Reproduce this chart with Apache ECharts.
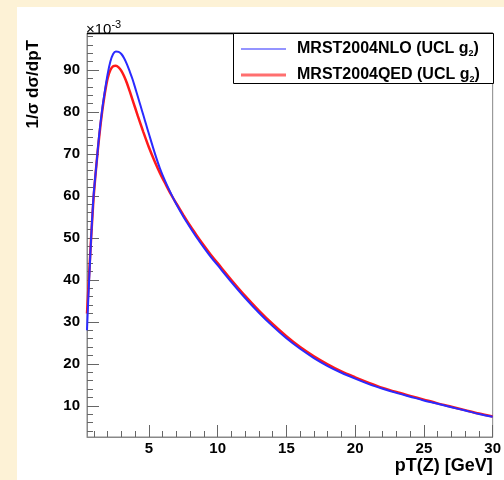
<!DOCTYPE html>
<html>
<head>
<meta charset="utf-8">
<script src="https://cdn.jsdelivr.net/npm/echarts@6/dist/echarts.min.js"></script>
<style>
html,body{margin:0;padding:0;background:#fdf2d6;}
#c{width:504px;height:480px;}
</style>
</head>
<body>
<div id="c"></div>
<script>
// pT(Z) in GeV, 1/sigma dsigma/dpT in units of 1e-3
const nloX = [0.5,0.6,0.7,0.8,0.9,1.0,1.2,1.4,1.6,1.8,2.0,2.2,2.4,2.6,2.8,3.0,3.2,3.4,3.6,3.8,4.0,4.2,4.4,4.6,4.8,5.0,5.4,5.8,6.2,6.6,7.0,7.5,8.0,8.5,9.0,9.5,10,11,12,13,14,15,16,17,18,19,20,21,22,23,24,25,26,27,28,29,30];
const nloY = [28,36,43,50,56,61,68,75,80.5,85,89,92,93.8,94.4,94.3,93.8,92.8,91.4,89.7,87.9,85.8,83.6,81.4,79.2,77.0,74.8,70.5,66.6,63.4,60.6,58.0,55.1,52.5,50.0,47.7,45.5,43.5,39.5,35.7,32.2,29.0,26.1,23.6,21.4,19.5,17.9,16.5,15.2,14.1,13.1,12.2,11.3,10.5,9.7,8.9,8.1,7.4];
const qedX = [0.5,0.6,0.7,0.8,0.9,1.0,1.2,1.4,1.6,1.8,2.0,2.2,2.4,2.6,2.8,3.0,3.2,3.4,3.6,3.8,4.0,4.2,4.6,5.0,5.4,5.8,6.2,6.6,7.0,7.5,8.0,8.5,9.0,9.5,10,11,12,13,14,15,16,17,18,19,20,21,22,23,24,25,26,27,28,29,30];
const qedY = [32,38,44,50,55.5,60.5,68,74.5,80,84.5,88,90,90.9,91.0,90.6,89.8,88.5,86.9,85.0,83.0,81.0,79.0,75.2,71.6,68.4,65.5,62.9,60.4,58.2,55.5,52.9,50.5,48.2,46.0,44.0,40.0,36.2,32.7,29.5,26.6,24.0,21.8,19.9,18.2,16.8,15.5,14.3,13.3,12.4,11.5,10.6,9.8,9.0,8.2,7.5];
const seriesNames = ['MRST2004NLO (UCL g2)', 'MRST2004QED (UCL g2)'];
const xTickLabels = [5,10,15,20,25,30];
const xMinorTicks = [1,2,3,4,5,6,7,8,9,10,11,12,13,14,15,16,17,18,19,20,21,22,23,24,25,26,27,28,29,30];
const yTickLabels = [10,20,30,40,50,60,70,80,90];
const yMinorTicks = [4,6,8,10,12,14,16,18,20,22,24,26,28,30,32,34,36,38,40,42,44,46,48,50,52,54,56,58,60,62,64,66,68,70,72,74,76,78,80,82,84,86,88,90,92,94,96,98];
const xRange = [0.5, 30];
const yRange = [2.6, 98.8];

const FONT = '"Liberation Sans", Arial, Helvetica, sans-serif';
const pair = (xs, ys) => xs.map((x, i) => [x, ys[i]]);

const chart = echarts.init(document.getElementById('c'), null, {renderer: 'canvas'});
const labelStyle = {fontFamily: FONT, fontWeight: 'bold', fontSize: 15, color: '#000'};
chart.setOption({
  backgroundColor: '#fdf2d6',
  animation: false,
  grid: {left: 87, top: 33, right: 11, bottom: 43, show: true, borderColor: '#888', borderWidth: 1, backgroundColor: 'transparent'},
  graphic: [
    {type: 'rect', z: -10, shape: {x: 17, y: 7, width: 487, height: 473}, style: {fill: '#ffffff'}, silent: true},
    {type: 'line', z: 10, shape: {x1: 87, y1: 33.5, x2: 493, y2: 33.5}, style: {stroke: '#000', lineWidth: 1.5}},
    {type: 'rect', z: 10, shape: {x: 233.5, y: 33.5, width: 260, height: 50}, style: {fill: '#fff', stroke: '#000', lineWidth: 1}},
    {type: 'text', z: 10, x: 33, y: 40, rotation: Math.PI / 2,
      style: {text: '1/σ dσ/dpT', font: 'bold 17px ' + FONT, fill: '#000', align: 'right', verticalAlign: 'middle'}},
    {type: 'text', z: 10, x: 86, y: 18,
      style: {text: '{a|×10}{b|-3}', fill: '#000',
        rich: {a: {font: '15px ' + FONT, fill: '#000', padding: [4, 0, 0, 0]}, b: {font: '11px ' + FONT, fill: '#000', padding: [0, 0, 6, 0]}}}}
  ],
  legend: {
    left: 236, top: 35, orient: 'vertical', itemGap: 8, itemWidth: 45, itemHeight: 18, z: 20,
    data: [
      {name: seriesNames[0], icon: 'path://M0,8.5 L45,8.5 L45,9.5 L0,9.5 Z', itemStyle: {color: '#2a2aff'}},
      {name: seriesNames[1], icon: 'path://M0,7.5 L45,7.5 L45,10.5 L0,10.5 Z', itemStyle: {color: '#ff6f6f'}}
    ],
    formatter: function (n) { return '{t|' + n.slice(0, -2) + '}{s|2}{t|)}'; },
    textStyle: {
      padding: [0, 0, 0, 6],
      rich: {
        t: {fontFamily: FONT, fontWeight: 'bold', fontSize: 16, color: '#000', lineHeight: 18},
        s: {fontFamily: FONT, fontWeight: 'bold', fontSize: 9, color: '#000', lineHeight: 18, padding: [9, 0, 0, 0]}
      }
    }
  },
  xAxis: [
    {type: 'value', min: xRange[0], max: xRange[1], position: 'bottom',
      axisLine: {show: true, lineStyle: {color: '#888', width: 1}},
      axisTick: {show: true, inside: true, length: 12, customValues: xTickLabels, lineStyle: {color: '#666'}},
      axisLabel: {show: true, customValues: xTickLabels, margin: 4, ...labelStyle},
      splitLine: {show: false},
      name: 'pT(Z) [GeV]', nameLocation: 'end', nameGap: 0,
      nameTextStyle: {fontFamily: FONT, fontWeight: 'bold', fontSize: 18, color: '#000', align: 'right', verticalAlign: 'top', padding: [20, 0, 0, 0]}},
    {type: 'value', min: xRange[0], max: xRange[1], position: 'bottom', gridIndex: 0,
      axisLine: {show: false},
      axisTick: {show: true, inside: true, length: 6, customValues: xMinorTicks, lineStyle: {color: '#666'}},
      axisLabel: {show: false}, splitLine: {show: false}}
  ],
  yAxis: [
    {type: 'value', min: yRange[0], max: yRange[1], position: 'left',
      axisLine: {show: true, lineStyle: {color: '#888', width: 1}},
      axisTick: {show: true, inside: true, length: 12, customValues: yTickLabels, lineStyle: {color: '#666'}},
      axisLabel: {show: true, customValues: yTickLabels, margin: 7, ...labelStyle},
      splitLine: {show: false}},
    {type: 'value', min: yRange[0], max: yRange[1], position: 'left', gridIndex: 0,
      axisLine: {show: false},
      axisTick: {show: true, inside: true, length: 6, customValues: yMinorTicks, lineStyle: {color: '#666'}},
      axisLabel: {show: false}, splitLine: {show: false}}
  ],
  series: [
    {name: seriesNames[1], type: 'line', data: pair(qedX, qedY), showSymbol: false, symbol: 'none', smooth: 0.3,
      lineStyle: {color: '#ff1a1a', width: 2.5}, itemStyle: {color: '#ff1a1a'}, z: 2},
    {name: seriesNames[0], type: 'line', data: pair(nloX, nloY), showSymbol: false, symbol: 'none', smooth: 0.3,
      lineStyle: {color: '#2a2aff', width: 2}, itemStyle: {color: '#2a2aff'}, z: 3}
  ]
});
</script>
</body>
</html>
